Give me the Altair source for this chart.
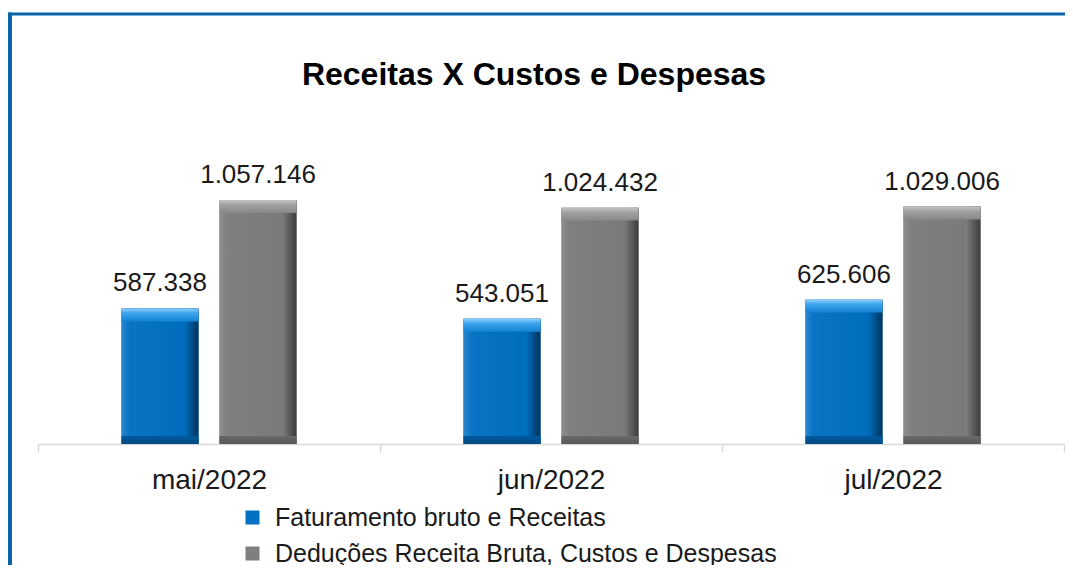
import altair as alt
import pandas as pd

months = ["mai/2022", "jun/2022", "jul/2022"]
series_names = ["Faturamento bruto e Receitas", "Deduções Receita Bruta, Custos e Despesas"]
receitas = [587338, 543051, 625606]
despesas = [1057146, 1024432, 1029006]
title_text = "Receitas X Custos e Despesas"

rows = []
for m, r, d in zip(months, receitas, despesas):
    rows.append({"mes": m, "serie": series_names[0], "valor": r})
    rows.append({"mes": m, "serie": series_names[1], "valor": d})
df = pd.DataFrame(rows)
df["rotulo"] = df["valor"].map(lambda v: f"{v:,}".replace(",", "."))

W, H = 1026, 323
YMAX = 1400000
FONT = "Liberation Sans"
CAP_TOP = 56000
CAP_BOT = 35000

x = alt.X(
    "mes:N", sort=months,
    scale=alt.Scale(domain=months, paddingInner=0, paddingOuter=0),
    axis=alt.Axis(title=None, labelAngle=0, tickBand="extent", labelFontSize=28,
                  labelFont=FONT, labelColor="#1a1a1a", labelPadding=14, tickSize=8,
                  domainColor="#d9d9d9", tickColor="#d9d9d9", domainWidth=1.5,
                  tickWidth=1.5, labelLimit=0, grid=False),
)
xo = alt.XOffset("serie:N", sort=series_names,
                 scale=alt.Scale(domain=series_names, paddingInner=0.214, paddingOuter=0.852))
y = alt.Y("valor:Q", scale=alt.Scale(domain=[0, YMAX]), axis=None)

base = alt.Chart(df).encode(x=x, xOffset=xo)

legend_bars = base.mark_bar().encode(
    y=y,
    color=alt.Color(
        "serie:N", sort=series_names,
        scale=alt.Scale(domain=series_names, range=["#0070C0", "#7F7F7F"]),
        legend=alt.Legend(title=None, orient="none", legendX=202, legendY=384,
                          direction="vertical", symbolType="square", symbolSize=196,
                          symbolStrokeWidth=0, labelFontSize=25, labelFont=FONT,
                          labelColor="#1a1a1a", labelLimit=0, labelOffset=10,
                          rowPadding=10, padding=0),
    ),
)

styles = {
    series_names[0]: {
        "body": [("#2a86cf", 0), ("#0a74c4", 0.1), ("#006cbc", 0.82), ("#00335c", 1)],
        "top": [("#8fd0fb", 0), ("#3ea6ee", 0.35), ("#1283d4", 1)],
        "bot": [("#005a9e", 0), ("#004a82", 1)],
    },
    series_names[1]: {
        "body": [("#8e8e8e", 0), ("#808080", 0.1), ("#7a7a7a", 0.82), ("#3c3c3c", 1)],
        "top": [("#c4c4c4", 0), ("#a2a2a2", 0.35), ("#888888", 1)],
        "bot": [("#6a6a6a", 0), ("#575757", 1)],
    },
}


def grad(stops, vertical=False):
    return alt.Gradient(
        gradient="linear",
        stops=[alt.GradientStop(color=c, offset=o) for c, o in stops],
        x1=0, y1=0, x2=0 if vertical else 1, y2=1 if vertical else 0,
    )


layers = [legend_bars]
for name in series_names:
    st = styles[name]
    f = base.transform_filter(alt.datum.serie == name)
    layers.append(f.mark_bar(color=grad(st["body"])).encode(y=y))
    layers.append(
        f.transform_calculate(t2=f"datum.valor - {CAP_TOP}")
        .mark_bar(color=grad(st["top"], vertical=True))
        .encode(y=y, y2="t2:Q")
    )
    layers.append(
        f.transform_calculate(b1=f"{CAP_BOT}", b0="0")
        .mark_bar(color=grad(st["bot"], vertical=True))
        .encode(y=alt.Y("b1:Q", scale=alt.Scale(domain=[0, YMAX]), axis=None), y2="b0:Q")
    )

labels = base.mark_text(dy=-17, baseline="alphabetic", fontSize=26, font=FONT,
                        color="#1a1a1a").encode(y=y, text="rotulo:N")
layers.append(labels)

frame_df = pd.DataFrame({"k": [0], "titulo": [title_text]})
top_line = alt.Chart(frame_df).mark_rule(color="#0b64a8", strokeWidth=3).encode(
    x=alt.value(-30), x2=alt.value(W + 1), y=alt.value(-107))
left_line = alt.Chart(frame_df).mark_rule(color="#0b64a8", strokeWidth=4).encode(
    x=alt.value(-28), y=alt.value(-108.5), y2=alt.value(H + 121))
title_mark = alt.Chart(frame_df).mark_text(
    fontSize=32, font=FONT, fontWeight="bold", color="#000000",
    align="center", baseline="alphabetic").encode(
    x=alt.value(496), y=alt.value(-36), text="titulo:N")
layers += [top_line, left_line, title_mark]

chart = alt.layer(*layers).properties(
    width=W, height=H,
    padding={"left": 30, "top": 113, "right": 1, "bottom": 121},
    autosize=alt.AutoSizeParams(type="none"),
).configure_view(stroke=None)

chart.save("out.html", embed_options={"renderer": "svg", "actions": False})
